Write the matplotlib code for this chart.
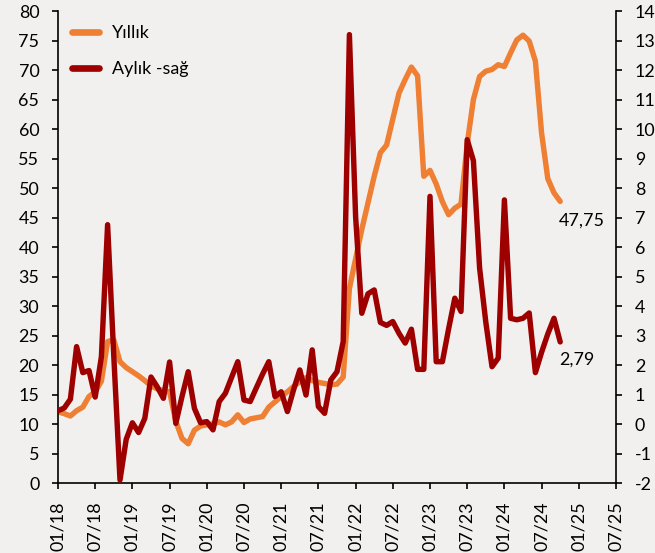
import numpy as np
import matplotlib
matplotlib.use("Agg")
import matplotlib.pyplot as plt
from matplotlib.lines import Line2D

# Monthly data, Jan 2018 .. Oct 2024
annual = [12.1, 11.8, 11.4, 12.3, 12.9, 14.7, 15.5, 17.3, 24.0, 24.3,
          20.6, 19.6, 18.9, 18.2, 17.4, 16.5, 16.0, 15.7, 15.5, 10.5,
          7.6, 6.7, 9.0, 9.7, 9.9, 10.1, 10.4, 9.9, 10.4, 11.6,
          10.3, 10.9, 11.1, 11.3, 12.9, 13.8, 14.7, 15.5, 16.4, 17.2,
          17.9, 17.4, 17.1, 16.9, 16.7, 16.8, 18.0, 33.0, 38.0, 43.0,
          47.5, 52.0, 56.0, 57.3, 61.7, 66.1, 68.4, 70.5, 69.0, 52.0,
          53.0, 50.7, 47.7, 45.5, 46.6, 47.3, 57.5, 65.0, 68.9, 69.8,
          70.1, 70.9, 70.6, 72.9, 75.1, 75.9, 74.9, 71.5, 59.3, 51.6,
          49.2, 47.75]
monthly = [0.46, 0.55, 0.85, 2.63, 1.75, 1.82, 0.92, 2.29, 6.76, 2.30,
           -1.89, -0.51, 0.05, -0.28, 0.20, 1.60, 1.27, 0.88, 2.11, 0.03,
           0.94, 1.78, 0.54, 0.05, 0.09, -0.19, 0.77, 1.05, 1.59, 2.12,
           0.82, 0.77, 1.24, 1.70, 2.12, 0.94, 1.10, 0.43, 1.17, 1.84,
           0.99, 2.52, 0.60, 0.37, 1.50, 1.78, 2.80, 13.20, 7.04, 3.76,
           4.42, 4.55, 3.45, 3.35, 3.48, 3.08, 2.75, 3.22, 1.86, 1.86,
           7.72, 2.12, 2.12, 3.23, 4.27, 3.82, 9.64, 8.93, 5.29, 3.46,
           1.95, 2.24, 7.60, 3.59, 3.54, 3.59, 3.77, 1.75, 2.44, 3.06,
           3.59, 2.79]
tick_labels = ["01/18", "07/18", "01/19", "07/19", "01/20", "07/20", "01/21",
               "07/21", "01/22", "07/22", "01/23", "07/23", "01/24", "07/24",
               "01/25", "07/25"]
series_names = ["Yıllık", "Aylık -sağ"]
end_labels = ["47,75", "2,79"]
left_ticks = list(range(0, 81, 5))
right_ticks = list(range(-2, 15))

plt.rcParams['font.family'] = ['Lato', 'DejaVu Sans']
plt.rcParams['axes.unicode_minus'] = False

W, H = 655, 553
bg = '#F2F0EF'
c_orange = '#EE7F33'
c_red = '#9E0000'
fs = 12.9

fig = plt.figure(figsize=(W / 100, H / 100), dpi=100)
fig.patch.set_facecolor(bg)
ax = fig.add_axes([58 / W, (H - 483.3) / H, 558 / W, (483.3 - 11) / H])
ax.set_facecolor(bg)
ax2 = ax.twinx()

x = np.arange(len(annual))
ax.plot(x, annual, color=c_orange, lw=3.9, solid_joinstyle='round', solid_capstyle='round')
ax2.plot(x, monthly, color=c_red, lw=3.9, solid_joinstyle='round', solid_capstyle='round')

ax.set_xlim(0, 90)
ax.set_ylim(0, 80)
ax2.set_ylim(-2, 14)
ax.set_yticks(left_ticks)
ax.set_yticklabels([str(v) for v in left_ticks])
ax2.set_yticks(right_ticks)
ax2.set_yticklabels([str(v) for v in right_ticks])
ax.set_xticks(np.arange(0, 6 * len(tick_labels), 6))
ax.set_xticklabels(tick_labels, rotation=90)

for a in (ax, ax2):
    a.spines['top'].set_visible(False)
    for s in a.spines.values():
        s.set_linewidth(1.2)
        s.set_color('black')
ax.spines['right'].set_visible(False)
ax2.spines['left'].set_visible(False)
ax2.spines['bottom'].set_visible(False)

ax.tick_params(axis='y', direction='out', length=4.5, width=1.2, pad=9, labelsize=fs, colors='black')
ax.tick_params(axis='x', direction='out', length=4, width=1.2, pad=9, labelsize=fs, colors='black')
ax2.tick_params(axis='y', direction='out', length=4.5, width=1.2, pad=9, labelsize=fs, colors='black')

ax.annotate(end_labels[0], xy=(x[-1], annual[-1]), xytext=(-1, -19),
            textcoords='offset pixels', ha='left', va='center', fontsize=fs)
ax2.annotate(end_labels[1], xy=(x[-1], monthly[-1]), xytext=(-1, -18),
             textcoords='offset pixels', ha='left', va='center', fontsize=fs)

handles = [Line2D([], [], color=c_orange, lw=4.8, solid_capstyle='round'),
           Line2D([], [], color=c_red, lw=4.8, solid_capstyle='round')]
leg = ax2.legend(handles, series_names, loc='upper left', bbox_to_anchor=(0.0, 1.0),
                 frameon=False, fontsize=fs, handlelength=1.5, handletextpad=0.7,
                 labelspacing=1.1, borderaxespad=0.4)

fig.savefig('out.png', dpi=100, facecolor=bg)
